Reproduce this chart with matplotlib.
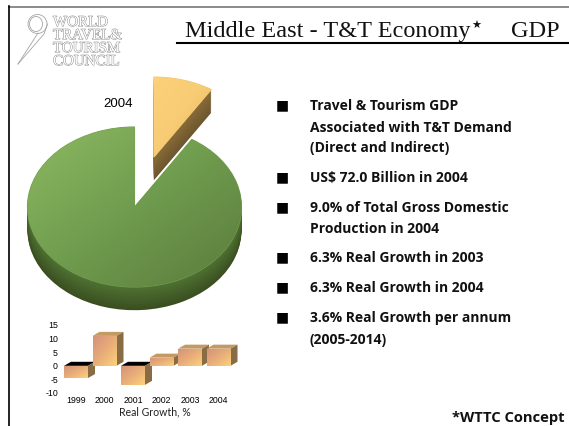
import numpy as np
import matplotlib
matplotlib.use("Agg")
import matplotlib.pyplot as plt
import matplotlib.patheffects as pe
from matplotlib.colors import LinearSegmentedColormap
from matplotlib.patches import Ellipse, Polygon

W, H = 569, 426

# data
pie_values = [9.0, 91.0]
pie_year = "2004"
years = ["1999", "2000", "2001", "2002", "2003", "2004"]
growth = [-4.5, 11.0, -7.0, 3.0, 6.3, 6.3]
growth_ticks = [-10, -5, 0, 5, 10, 15]
growth_label = "Real Growth, %"
title_left = "Middle East - T&T Economy"
title_right = "GDP"
logo_lines = ["WORLD", "TRAVEL&", "TOURISM", "COUNCIL"]
bullets = [
    ["Travel & Tourism GDP", "Associated with T&T Demand", "(Direct and Indirect)"],
    ["US$ 72.0 Billion in 2004"],
    ["9.0% of Total Gross Domestic", "Production in 2004"],
    ["6.3% Real Growth in 2003"],
    ["6.3% Real Growth in 2004"],
    ["3.6% Real Growth per annum", "(2005-2014)"],
]
line_y = [[106, 128, 148], [178], [208, 229], [258], [288], [318, 340]]
footnote = "*WTTC Concept"


def px_axes(fig, left, top, right, bottom):
    return fig.add_axes([left / W, 1 - bottom / H, (right - left) / W, (bottom - top) / H])


def gradient(ax, patch, colors, extent, zorder):
    cmap = LinearSegmentedColormap.from_list("g", colors)
    xx, yy = np.meshgrid(np.linspace(0, 1, 80), np.linspace(0, 1, 80))
    im = ax.imshow(xx + yy, cmap=cmap, extent=extent, aspect="auto", origin="upper",
                   zorder=zorder, interpolation="bilinear")
    im.set_clip_path(patch)


fig = plt.figure(figsize=(W / 100, H / 100), dpi=100, facecolor="white")

# page decoration, in pixels
bg = fig.add_axes([0, 0, 1, 1])
bg.set_xlim(0, W)
bg.set_ylim(H, 0)
bg.axis("off")
bg.plot([9, W], [6.5, 6.5], color="#777777", lw=1.2)
bg.plot([9.5, 9.5], [6, H], color="black", lw=1.2)
bg.plot([177, W], [42.5, 42.5], color="black", lw=1.5)

bg.text(185, 37, title_left, family="Liberation Serif", fontsize=17.5, color="#111111")
bg.text(471, 29, "\u2605", family="DejaVu Sans", fontsize=8, color="#111111")
bg.text(511, 37, title_right, family="Liberation Serif", fontsize=17.5, color="#111111")

# logo
for name, y in zip(logo_lines, [26, 39, 52, 65]):
    t = bg.text(53, y, name, family="Liberation Serif", fontsize=10.8, color="white")
    t.set_path_effects([pe.withStroke(linewidth=0.7, foreground="#8f8f8f")])
bg.add_patch(Ellipse((37.5, 24), 19, 19, fill=False, ec="#a5a5a5", lw=0.6))
bg.add_patch(Ellipse((36, 24), 13, 15, fill=False, ec="#a5a5a5", lw=0.6))
bg.plot([18, 44, 47.5], [64, 34, 24], color="#a5a5a5", lw=0.6)
bg.plot([18, 38], [64, 33], color="#a5a5a5", lw=0.6)

# bullets
for block, ys in zip(bullets, line_y):
    bg.text(282, ys[0] - 1, "\u25a0", family="DejaVu Sans", fontsize=10, ha="center", va="center", color="black")
    for s, y in zip(block, ys):
        bg.text(310, y, s, family="Open Sans", weight="bold", fontsize=10, va="center", color="#111111")
bg.text(565, 418, footnote, family="Open Sans", weight="bold", fontsize=10.6, ha="right", va="center", color="#111111")
bg.text(118, 104, pie_year, family="Liberation Sans", fontsize=9.5, ha="center", va="center", color="black")

# pie: squashed by giving the axes a non equal scale
rx, ry = 107.0, 80.0
cx, cy = 134.5, 207.0
depth = 0.29
explode = [0.65, 0.0]
pie_ax = px_axes(fig, 0, 60, 300, 320)
pie_ax.patch.set_alpha(0)
lims = ((0 - cx) / rx, (300 - cx) / rx, (cy - 320) / ry, (cy - 60) / ry)

steps = 24
for i in range(steps, 0, -1):
    f = i / steps
    side_green = np.array([0x4f, 0x72, 0x33]) * (1 - f) + np.array([0x3a, 0x4f, 0x20]) * f
    side_yellow = np.array([0x8a, 0x6c, 0x38]) * (1 - f) + np.array([0x6e, 0x56, 0x2e]) * f
    pie_ax.pie(pie_values, explode=explode, startangle=90, counterclock=False, radius=1.0,
               center=(0, -depth * f), colors=[side_yellow / 255, side_green / 255],
               wedgeprops={"lw": 0})

tops, _ = pie_ax.pie(pie_values, explode=explode, startangle=90, counterclock=False, radius=1.0,
                     colors=["#fbcf74", "#6e9a4e"], wedgeprops={"lw": 0.8, "zorder": 5})
tops[0].set_edgecolor("#f5ca72")
tops[1].set_edgecolor("#749f52")
gradient(pie_ax, tops[0], ["#fdd27a", "#f8cc74", "#d8b162"], (0.1, 0.75, 0.5, 1.75), 6)
gradient(pie_ax, tops[1], ["#8fbb63", "#6f9c4e", "#5b7a3c"], (-1.05, 1.05, -1.05, 1.05), 6)
pie_ax.set_aspect("auto")
pie_ax.set_xlim(lims[0], lims[1])
pie_ax.set_ylim(lims[2], lims[3])
pie_ax.axis("off")

# small pseudo 3d bars
bar_ax = px_axes(fig, 60, 325, 240, 393)
bar_ax.patch.set_alpha(0)
x = np.arange(len(years))
bw = 24 / 28.5
dx = 7 / 28.5
dy = 4 / 2.72
for i, v in enumerate(growth):
    z = 3 + i * 3
    left = x[i] - bw / 2
    right = x[i] + bw / 2
    top = max(v, 0)
    bar = bar_ax.bar(x[i], v, width=bw, color="#e8b078", lw=0, zorder=z)[0]
    gradient(bar_ax, bar, ["#d4917c", "#e8ad78", "#fdd27a"],
             (left, right, min(v, 0), max(v, 0)), z + 0.5)
    top_color = "black" if v < 0 else "#c39a62"
    bar_ax.add_patch(Polygon([(left, top), (right, top), (right + dx, top + dy), (left + dx, top + dy)],
                             fc=top_color, ec="none", zorder=z))
    bar_ax.add_patch(Polygon([(right, top), (right + dx, top + dy), (right + dx, min(v, 0) + dy), (right, min(v, 0))],
                             fc="#8a6c44", ec="none", zorder=z))
bar_ax.set_xlim((60 - 76) / 28.5, (240 - 76) / 28.5)
bar_ax.set_ylim(-10, 15)
bar_ax.set_xticks(x)
bar_ax.set_xticklabels(years, family="Liberation Sans", fontsize=6.3)
bar_ax.set_yticks(growth_ticks)
bar_ax.set_yticklabels(growth_ticks, family="Liberation Sans", fontsize=6.3)
bar_ax.tick_params(length=0, pad=1.5)
bar_ax.tick_params(axis="x", pad=2.5)
for s in bar_ax.spines.values():
    s.set_visible(False)
bar_ax.set_xlabel(growth_label, family="Lato", fontsize=7.6, labelpad=0, color="#222222")
bar_ax.xaxis.set_label_coords((155 - 60) / 180, -0.2)

fig.savefig("out.png", dpi=100)
